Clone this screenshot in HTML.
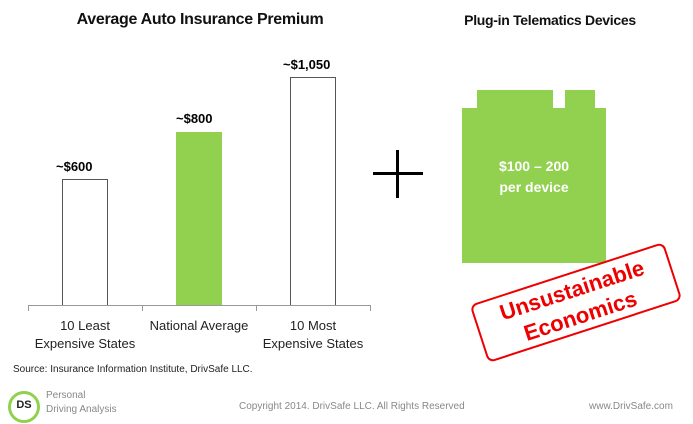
<!DOCTYPE html>
<html><head><style>
body{margin:0;width:693px;height:424px;background:#fff;position:relative;overflow:hidden;font-family:"Liberation Sans",sans-serif;}
.a{position:absolute;}
.t{position:absolute;white-space:nowrap;}
</style></head><body>
<div class="t" style="left:0;width:400px;text-align:center;top:11px;font-size:16px;font-weight:bold;color:#111;letter-spacing:-0.3px">Average Auto Insurance Premium</div>
<div class="t" style="left:430px;width:240px;text-align:center;top:12px;font-size:14px;font-weight:bold;color:#111;letter-spacing:-0.3px">Plug-in Telematics Devices</div>

<div class="a" style="left:62px;top:179px;width:44px;height:126px;border:1px solid #555;border-bottom:none"></div>
<div class="a" style="left:176px;top:132px;width:46px;height:174px;background:#92d050"></div>
<div class="a" style="left:290px;top:77px;width:44px;height:228px;border:1px solid #555;border-bottom:none"></div>
<div class="t" style="left:56px;top:159px;font-size:13px;font-weight:bold">~$600</div>
<div class="t" style="left:176px;top:111px;font-size:13px;font-weight:bold">~$800</div>
<div class="t" style="left:283px;top:57px;font-size:13px;font-weight:bold">~$1,050</div>

<div class="a" style="left:28px;top:305px;width:342px;height:1px;background:#999"></div>
<div class="a" style="left:28px;top:305px;width:1px;height:6px;background:#999"></div>
<div class="a" style="left:142px;top:305px;width:1px;height:6px;background:#999"></div>
<div class="a" style="left:256px;top:305px;width:1px;height:6px;background:#999"></div>
<div class="a" style="left:370px;top:305px;width:1px;height:6px;background:#999"></div>
<div class="t" style="left:28px;width:114px;text-align:center;top:317px;font-size:13px;line-height:18px;color:#222">10 Least<br>Expensive States</div>
<div class="t" style="left:142px;width:114px;text-align:center;top:317px;font-size:13px;line-height:18px;color:#222">National Average</div>
<div class="t" style="left:256px;width:114px;text-align:center;top:317px;font-size:13px;line-height:18px;color:#222">10 Most<br>Expensive States</div>

<div class="a" style="left:373px;top:172px;width:50px;height:3px;background:#000"></div>
<div class="a" style="left:396px;top:150px;width:3px;height:48px;background:#000"></div>

<div class="a" style="left:477px;top:90px;width:76px;height:20px;background:#92d050"></div>
<div class="a" style="left:565px;top:90px;width:30px;height:20px;background:#92d050"></div>
<div class="a" style="left:462px;top:108px;width:144px;height:155px;background:#92d050"></div>
<div class="t" style="left:462px;width:144px;text-align:center;top:156px;font-size:14px;font-weight:bold;line-height:21px;color:#fff">$100 – 200<br>per device</div>

<div class="a" style="left:474px;top:272px;width:200px;height:57px;border:2px solid #e00;border-radius:7px;transform:rotate(-18deg);transform-origin:center;background:rgba(255,255,255,0.75)"></div>
<div class="a" style="left:476px;top:274px;width:200px;height:57px;transform:rotate(-18deg);transform-origin:center;display:flex;align-items:center;justify-content:center;text-align:center;color:#e00;font-size:22px;font-weight:bold;line-height:27px;white-space:nowrap">Unsustainable<br>Economics</div>

<div class="t" style="left:13px;top:364px;font-size:10px;color:#222">Source: Insurance Information Institute, DrivSafe LLC.</div>
<div class="a" style="left:8px;top:391px;width:26px;height:26px;border-radius:50%;border:3px solid #92d050;background:#fff;font-size:11px;font-weight:bold;text-align:center;line-height:22px;color:#222">DS</div>
<div class="t" style="left:46px;top:389px;font-size:10px;line-height:14px;color:#888">Personal<br>Driving Analysis</div>
<div class="t" style="left:239px;top:401px;font-size:10px;color:#888">Copyright 2014. DrivSafe LLC. All Rights Reserved</div>
<div class="t" style="left:589px;top:401px;font-size:10px;color:#888">www.DrivSafe.com</div>
</body></html>
